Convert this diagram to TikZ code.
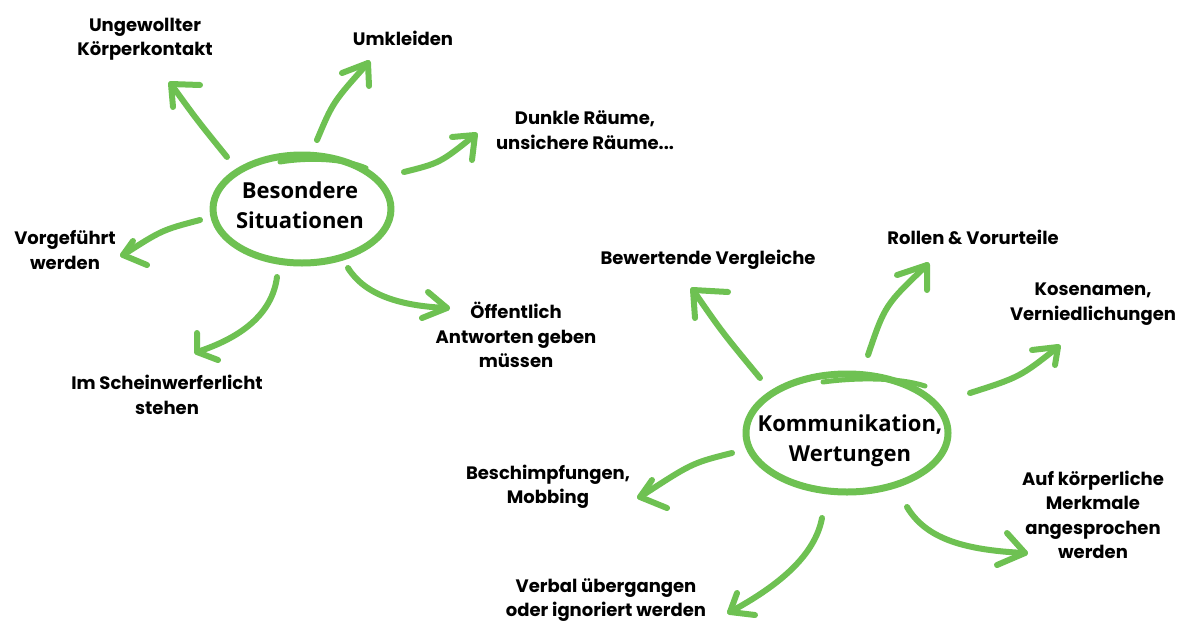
\documentclass[tikz,border=0pt]{standalone}
\usepackage{fontspec}
\setmainfont{Poppins}
\newfontfamily\hubfont{Open Sans}
\definecolor{grn}{RGB}{110,193,82}
\begin{document}
\begin{tikzpicture}[x=1pt,y=-1pt,line cap=round,line join=round,
  lbl/.style={font=\fontsize{18}{24.5}\selectfont\bfseries,align=center,text=black,inner sep=0pt},
  hub/.style={font=\hubfont\fontsize{22}{30}\selectfont\bfseries,align=center,text=black,inner sep=0pt},
  brush/.style={draw=grn,line width=6pt},
  ring/.style={draw=grn,line width=7pt}]
\fill[white] (0,0) rectangle (1182,624);
\useasboundingbox (0,0) rectangle (1182,624);

% ---------- hub 1
\draw[ring] (302,209) ellipse [x radius=89, y radius=54];
\draw[ring,line width=5pt] (280,162) .. controls (310,157) and (345,159) .. (366,168);
\node[hub] (sit) at (300,205) {Besondere\\Situationen};

% ---------- hub 2
\draw[ring] (847,433) ellipse [x radius=101, y radius=59];
\draw[ring,line width=5pt] (823,382) .. controls (860,377) and (900,378) .. (925,386);
\node[hub] (kom) at (850,441) {Kommunikation,\\Wertungen};

% ---------- labels
\node[lbl] (l1) at (145,39) {Ungewollter\\Körperkontakt};
\node[lbl] (l2) at (403,38) {Umkleiden};
\node[lbl] (l3) at (585,130) {Dunkle Räume,\\unsichere Räume...};
\node[lbl] (l4) at (65,250) {Vorgeführt\\werden};
\node[lbl] (l5) at (167,395) {Im Scheinwerferlicht\\stehen};
\node[lbl] (l6) at (516,335) {Öffentlich\\Antworten geben\\müssen};
\node[lbl] (r1) at (708,260) {Bewertende Vergleiche};
\node[lbl] (r2) at (973,237) {Rollen \& Vorurteile};
\node[lbl] (r3) at (1093,304) {Kosenamen,\\Verniedlichungen};
\node[lbl] (r4) at (548,487) {Beschimpfungen,\\Mobbing};
\node[lbl] (r5) at (606,600) {Verbal übergangen\\oder ignoriert werden};
\node[lbl] (r6) at (1093,515) {Auf körperliche\\Merkmale\\angesprochen\\werden};

% ---------- arrow points (left cluster)
\coordinate (a1s) at (227,157); \coordinate (a1t) at (171,84);
\coordinate (a1p) at (200,85);  \coordinate (a1q) at (173,107);
\coordinate (a2s) at (317,140); \coordinate (a2t) at (368,63);
\coordinate (a2p) at (342,73);  \coordinate (a2q) at (369,86);
\coordinate (a3s) at (404,172); \coordinate (a3t) at (475,135);
\coordinate (a3p) at (452,137); \coordinate (a3q) at (472,160);
\coordinate (a4s) at (200,220); \coordinate (a4t) at (123,255);
\coordinate (a4p) at (133,241); \coordinate (a4q) at (147,265);
\coordinate (a5s) at (277,277); \coordinate (a5t) at (197,352);
\coordinate (a5p) at (197,333); \coordinate (a5q) at (218,360);
\coordinate (a6s) at (348,268); \coordinate (a6t) at (447,308);
\coordinate (a6p) at (428,292); \coordinate (a6q) at (422,318);

% ---------- arrow points (right cluster)
\coordinate (b1s) at (760,378); \coordinate (b1t) at (693,290);
\coordinate (b1p) at (728,292); \coordinate (b1q) at (695,318);
\coordinate (b2s) at (868,355); \coordinate (b2t) at (927,265);
\coordinate (b2p) at (897,275); \coordinate (b2q) at (927,290);
\coordinate (b3s) at (970,393); \coordinate (b3t) at (1058,347);
\coordinate (b3p) at (1032,350); \coordinate (b3q) at (1055,365);
\coordinate (b4s) at (732,453); \coordinate (b4t) at (640,497);
\coordinate (b4p) at (652,480); \coordinate (b4q) at (667,508);
\coordinate (b5s) at (822,518); \coordinate (b5t) at (730,612);
\coordinate (b5p) at (737,593); \coordinate (b5q) at (755,615);
\coordinate (b6s) at (907,507); \coordinate (b6t) at (1025,553);
\coordinate (b6p) at (1007,533); \coordinate (b6q) at (997,565);

% ---------- shafts
\draw[brush] (a1s) .. controls (197,120) .. (a1t);
\draw[brush] (a2s) .. controls (333,102) .. (a2t);
\draw[brush] (a3s) .. controls (440,163) .. (a3t);
\draw[brush] (a4s) .. controls (162,230) .. (a4t);
\draw[brush] (a5s) .. controls (272,315) and (240,338) .. (a5t);
\draw[brush] (a6s) .. controls (365,295) and (400,306) .. (a6t);
\draw[brush] (b1s) .. controls (722,332) .. (b1t);
\draw[brush] (b2s) .. controls (885,305) .. (b2t);
\draw[brush] (b3s) .. controls (1020,377) .. (b3t);
\draw[brush] (b4s) .. controls (692,463) .. (b4t);
\draw[brush] (b5s) .. controls (815,555) and (780,585) .. (b5t);
\draw[brush] (b6s) .. controls (925,537) and (960,550) .. (b6t);

% ---------- heads
\foreach \h in {a1,a2,a3,a4,a5,a6,b1,b2,b3,b4,b5,b6}
  \draw[brush] (\h p) -- (\h t) -- (\h q);
\end{tikzpicture}
\end{document}
